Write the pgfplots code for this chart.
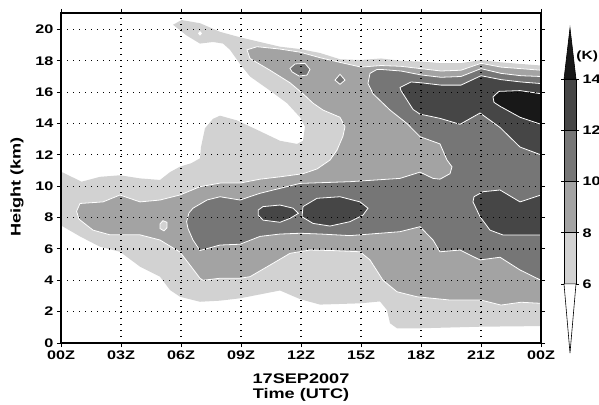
\documentclass[border=0pt]{standalone}
\usepackage{fontspec}
\setmainfont[FakeStretch=1.3]{Liberation Sans}
\usepackage{pgfplots}
\pgfplotsset{compat=1.18}
\definecolor{c6}{RGB}{210,210,210}
\definecolor{c8}{RGB}{163,163,163}
\definecolor{c10}{RGB}{118,118,118}
\definecolor{c12}{RGB}{70,70,70}
\definecolor{c14}{RGB}{24,24,24}
\begin{document}
\begin{tikzpicture}
\begin{axis}[at={(0,0)}, anchor=south west, scale only axis,
  width=480bp, height=330bp,
  xmin=0, xmax=24, ymin=0, ymax=21.05,
  xtick={0,3,...,24}, xticklabels={00Z,03Z,06Z,09Z,12Z,15Z,18Z,21Z,00Z},
  ytick={0,2,...,20},
  grid=major, grid style={black, line width=1.2bp, dash pattern=on 1.2bp off 4.8bp},
  axis on top, axis line style={line width=1.6bp},
  tick align=outside, major tick length=4bp, tick style={black, line width=1bp},
  ticklabel style={font=\fontsize{12.5}{13}\selectfont\bfseries},
  /pgf/number format/assume math mode=true,
  every axis x label/.style={at={(axis description cs:0.5,0)}, yshift=-44.5bp, anchor=center, align=center, font=\fontsize{14}{15}\selectfont\bfseries},
  every axis y label/.style={at={(axis description cs:0,0.473)}, xshift=-44bp, rotate=90, anchor=center, font=\fontsize{14}{15}\selectfont\bfseries},
  xlabel={17SEP2007\\Time (UTC)}, ylabel={Height (km)},
]
% >= 6
\addplot[fill=c6, draw=none] coordinates {(0,10.93) (1.03,10.29) (1.95,10.6) (2.95,10.7) (3.95,10.5) (4.95,10.4) (5.45,10.9) (5.95,11.25) (6.5,11.46) (6.95,11.78) (7.0,12.5) (7.2,13.7) (7.6,14.3) (7.95,14.5) (8.8,14.2) (9.8,13.6) (10.95,12.9) (11.8,12.7) (12.1,12.9) (12.2,13.8) (11.95,14.4) (11.3,15.3) (10.45,16.1) (9.45,17.0) (8.95,17.8) (8.45,18.7) (8.1,19.1) (7.6,19.2) (6.95,19.1) (6.3,19.6) (5.6,20.3) (6.03,20.6) (6.95,20.4) (7.95,19.85) (8.95,19.5) (9.95,19.2) (10.95,18.9) (11.95,18.75) (12.95,18.5) (13.95,18.1) (14.95,18.05) (16,18.15) (17,18.0) (18,17.95) (19,17.85) (20,17.85) (21,18.05) (22,17.9) (23,17.8) (24,17.7) (24,1.08) (21,1.04) (18,0.94) (16.8,0.94) (16.45,1.26) (16.3,2.1) (15.95,2.65) (14.95,2.53) (12.95,2.45) (11.95,2.8) (10.95,3.35) (9.95,3.1) (8.95,2.85) (7.95,2.7) (6.95,2.63) (5.95,2.95) (5.45,3.38) (4.95,4.23) (3.95,4.87) (2.95,5.82) (1.95,6.14) (0.95,6.8) (0,7.5)} --cycle;
\addplot[fill=white, draw=none] coordinates {(6.85,19.75) (6.95,19.9) (7.05,19.75) (6.95,19.6)} --cycle;
% >= 8
\addplot[fill=c8, draw=white, line width=0.8bp] coordinates {(9.3,18.7) (9.8,18.9) (10.95,18.75) (11.95,18.55) (12.95,18.2) (13.95,17.9) (15,17.6) (16,17.7) (17,17.65) (18,17.5) (19,17.35) (20,17.4) (21,17.84) (22,17.6) (23,17.5) (24,17.4) (24,2.53) (23,2.6) (22,2.42) (21,2.74) (19.45,2.74) (17.8,2.95) (16.8,3.27) (16.1,4.0) (15.45,5.3) (14.95,5.82) (13.5,5.9) (12.45,5.93) (11.45,5.72) (10.45,4.97) (9.45,4.23) (8.95,4.13) (7.95,4.13) (7.1,4.0) (6.95,4.13) (6.45,4.97) (5.95,5.8) (4.95,6.57) (3.95,6.9) (2.45,6.9) (1.6,7.2) (0.9,7.9) (0.78,8.4) (0.95,8.9) (2.1,9.0) (2.95,9.44) (3.95,9.0) (4.95,9.12) (5.95,9.44) (6.95,9.97) (7.95,10.2) (8.95,10.2) (9.95,10.45) (10.95,10.6) (12.1,10.8) (12.8,11.1) (13.45,11.67) (13.8,12.3) (14.1,13.2) (14.2,13.8) (13.95,14.4) (13.1,14.86) (12.6,15.3) (12.1,15.9) (11.45,16.6) (10.45,17.4) (9.45,18.15)} --cycle;
\addplot[fill=c6, draw=white, line width=0.8bp] coordinates {(4.95,7.6) (5.1,7.8) (5.3,7.7) (5.3,7.35) (5.15,7.15) (4.95,7.3)} --cycle;
% >= 10
\addplot[fill=c10, draw=white, line width=0.8bp] coordinates {(6.28,7.74) (6.4,8.3) (6.6,8.6) (7.3,9.12) (7.95,9.33) (8.95,9.12) (9.95,9.55) (11.95,10.18) (14.45,10.29) (16.95,10.5) (17.95,10.9) (18.6,10.5) (18.95,10.45) (19.45,10.8) (19.55,11.24) (19.3,11.67) (18.95,12.7) (17.95,13.16) (17.3,14.0) (16.45,14.86) (15.6,15.9) (15.35,16.56) (15.45,17.2) (15.8,17.45) (16,17.45) (17,17.35) (18,17.1) (19,16.95) (20,17.0) (21,17.5) (22,17.2) (23,17.05) (24,17.0) (24,4.0) (22.95,4.66) (21.95,5.47) (20.95,5.3) (19.95,5.93) (18.95,5.82) (18.6,6.57) (17.95,7.42) (16.95,7.1) (14.45,6.85) (13,6.95) (11.95,7.0) (10.95,6.95) (9.95,6.8) (8.95,6.3) (7.95,6.25) (6.95,5.9) (6.6,6.57) (6.35,7.3)} --cycle;
\addplot[fill=c10, draw=white, line width=0.8bp] coordinates {(11.45,17.52) (11.7,17.8) (12.2,17.84) (12.45,17.45) (12.3,17.09) (11.9,17.03) (11.55,17.3)} --cycle;
\addplot[fill=c10, draw=white, line width=0.8bp] coordinates {(13.7,16.77) (13.95,17.14) (14.2,16.77) (13.95,16.5)} --cycle;
% >= 12
\addplot[fill=c12, draw=white, line width=0.8bp] coordinates {(16.95,16.3) (17.5,16.65) (18,16.6) (19,16.45) (20,16.45) (21,17.05) (22,16.8) (23,16.65) (24,16.55) (24,12.0) (22.95,12.5) (21.95,13.75) (20.95,14.67) (19.95,13.95) (18.95,14.33) (17.95,14.6) (17.6,14.9) (17.3,15.5) (17.0,16.1)} --cycle;
\addplot[fill=c12, draw=white, line width=0.8bp] coordinates {(9.86,8.48) (10.1,8.7) (10.95,8.8) (11.6,8.6) (11.87,8.27) (11.45,7.95) (10.95,7.7) (10.1,7.84) (9.86,8.16)} --cycle;
\addplot[fill=c12, draw=white, line width=0.8bp] coordinates {(12.1,8.7) (12.8,9.23) (13.95,9.33) (14.95,9.0) (15.35,8.6) (15.1,8.16) (14.45,7.74) (13.45,7.46) (12.6,7.63) (12.05,8.05)} --cycle;
\addplot[fill=c12, draw=white, line width=0.8bp] coordinates {(20.6,9.0) (20.65,9.33) (21.1,9.65) (21.95,9.76) (22.95,9.0) (24,9.44) (24,6.89) (22.1,6.89) (21.45,7.2) (20.95,8.06)} --cycle;
% >= 14
\addplot[fill=c14, draw=white, line width=0.8bp] coordinates {(21.6,15.7) (21.9,16.05) (22.95,16.1) (24,15.9) (24,13.95) (22.95,14.4) (21.95,15.1) (21.65,15.35)} --cycle;
\end{axis}
\begin{axis}[at={(503bp,-10bp)}, anchor=south west, scale only axis,
  width=12bp, height=325bp, xmin=0, xmax=1, ymin=3.3, ymax=16,
  axis line style={draw=none}, xtick=\empty, ytick={6,8,...,14},
  yticklabel pos=right, tick align=outside, major tick length=3bp,
  tick style={black, line width=0.6bp}, clip=false,
  ticklabel style={font=\fontsize{12.5}{13}\selectfont\bfseries},
  /pgf/number format/assume math mode=true]
\addplot[fill=c6, draw=black, line width=0.6bp] coordinates {(0,6) (1,6) (1,8) (0,8)} --cycle;
\addplot[fill=c8, draw=black, line width=0.6bp] coordinates {(0,8) (1,8) (1,10) (0,10)} --cycle;
\addplot[fill=c10, draw=black, line width=0.6bp] coordinates {(0,10) (1,10) (1,12) (0,12)} --cycle;
\addplot[fill=c12, draw=black, line width=0.6bp] coordinates {(0,12) (1,12) (1,14) (0,14)} --cycle;
\addplot[fill=c14, draw=black, line width=0.6bp] coordinates {(0,14) (1,14) (0.5,16)} --cycle;
\addplot[fill=white, draw=black, line width=0.6bp] coordinates {(0,6) (1,6) (0.5,3.3)} --cycle;
\node[anchor=east, font=\fontsize{12}{13}\selectfont\bfseries, inner sep=0pt] at (axis cs:2.85,14.9) {(K)};
\end{axis}
\pgfresetboundingbox
\path[use as bounding box] (-61bp,-62bp) rectangle (538bp,343bp);
\end{tikzpicture}
\end{document}
